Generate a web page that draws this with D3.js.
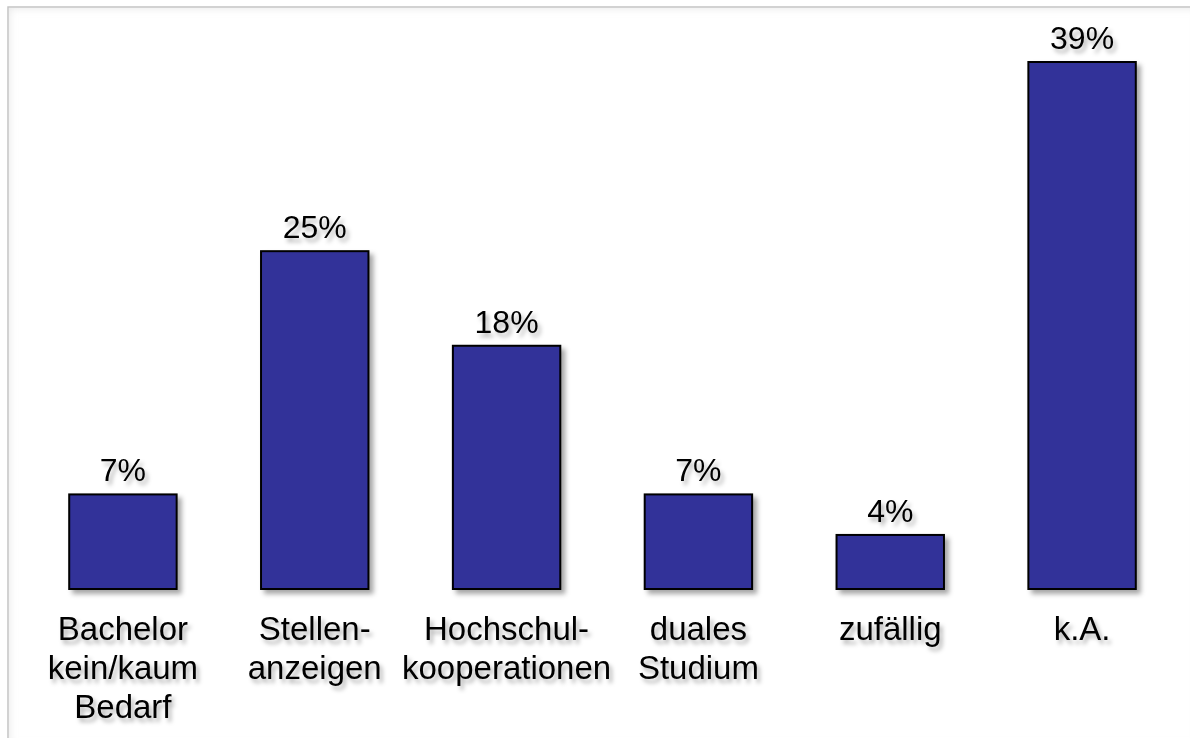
<!DOCTYPE html>
<html>
<head>
<meta charset="utf-8">
<script src="https://cdn.jsdelivr.net/npm/d3@7"></script>
<style>
  html, body { margin: 0; padding: 0; background: #fff; }
  svg { display: block; }
  text { font-family: "Liberation Sans", Arial, sans-serif; fill: #000; }
</style>
</head>
<body>
<svg id="chart" width="1190" height="738"></svg>
<script>
// Categories (line breaks as drawn) and shares in percent
const categories = [
  ["Bachelor", "kein/kaum", "Bedarf"],
  ["Stellen-", "anzeigen"],
  ["Hochschul-", "kooperationen"],
  ["duales", "Studium"],
  ["zufällig"],
  ["k.A."]
];
const values = [7, 25, 18, 7, 4, 39];
const valueLabels = ["7%", "25%", "18%", "7%", "4%", "39%"];

const W = 1190, H = 738;
const svg = d3.select("#chart");
const defs = svg.append("defs");

// soft drop shadow used by bars and the axis line
const shadow = defs.append("filter").attr("id", "shadow")
  .attr("x", "-20%").attr("y", "-20%").attr("width", "150%").attr("height", "150%");
shadow.append("feDropShadow").attr("dx", 4).attr("dy", 4).attr("stdDeviation", 2.5)
  .attr("flood-color", "#000").attr("flood-opacity", 0.35);

// softer shadow for texts
const textShadow = defs.append("filter").attr("id", "textShadow")
  .attr("x", "-20%").attr("y", "-30%").attr("width", "150%").attr("height", "170%");
textShadow.append("feDropShadow").attr("dx", 3).attr("dy", 4).attr("stdDeviation", 2)
  .attr("flood-color", "#000").attr("flood-opacity", 0.3);

// blur for the frame's inner glow
const inner = defs.append("filter").attr("id", "inner");
inner.append("feGaussianBlur").attr("stdDeviation", 4);

// frame: light gray border on top/left with a soft inner glow
const frame = svg.append("g");
frame.append("rect").attr("x", 8).attr("y", 7).attr("width", W).attr("height", H)
  .attr("fill", "#fff").attr("stroke", "#c4c4c4").attr("stroke-width", 1.5);
defs.append("clipPath").attr("id", "frameClip")
  .append("rect").attr("x", 9).attr("y", 8).attr("width", W).attr("height", H);
frame.append("rect").attr("x", 4).attr("y", 3).attr("width", W + 10).attr("height", H + 10)
  .attr("fill", "none").attr("stroke", "#e6e6e6").attr("stroke-width", 10)
  .attr("filter", "url(#inner)")
  .attr("clip-path", "url(#frameClip)");

// scales
const baseY = 589;
const x = d3.scaleBand()
  .domain(d3.range(values.length))
  .range([27, 1178])
  .paddingInner(0.44)
  .paddingOuter(0.22);
const y = d3.scaleLinear().domain([0, 39]).range([baseY, 62]);

const plot = svg.append("g");

// bars
plot.selectAll("rect.bar").data(values).join("rect")
  .attr("class", "bar")
  .attr("x", (d, i) => x(i))
  .attr("y", d => y(d))
  .attr("width", x.bandwidth())
  .attr("height", d => baseY - y(d))
  .attr("fill", "#333399")
  .attr("stroke", "#000")
  .attr("stroke-width", 2)
  .attr("filter", "url(#shadow)");

// category axis line
const axis = d3.axisBottom(x).tickSize(0).tickFormat("");
const axisG = plot.append("g").attr("transform", `translate(0,${baseY})`).call(axis);
axisG.select(".domain").attr("stroke", "#000").attr("stroke-width", 2)
  .attr("d", "M27,0H1179").attr("filter", "url(#shadow)");

// value labels
plot.selectAll("text.val").data(values).join("text")
  .attr("class", "val")
  .attr("x", (d, i) => x(i) + x.bandwidth() / 2)
  .attr("y", d => y(d) - 13)
  .attr("text-anchor", "middle")
  .attr("font-size", 32)
  .attr("filter", "url(#textShadow)")
  .text((d, i) => valueLabels[i]);

// category labels
const cat = plot.selectAll("text.cat").data(categories).join("text")
  .attr("class", "cat")
  .attr("text-anchor", "middle")
  .attr("font-size", 33)
  .attr("filter", "url(#textShadow)");
cat.selectAll("tspan").data((d, i) => d.map(s => ({ s, i }))).join("tspan")
  .attr("x", d => x(d.i) + x.bandwidth() / 2)
  .attr("y", (d, j) => 640 + j * 39)
  .text(d => d.s);
</script>
</body>
</html>
